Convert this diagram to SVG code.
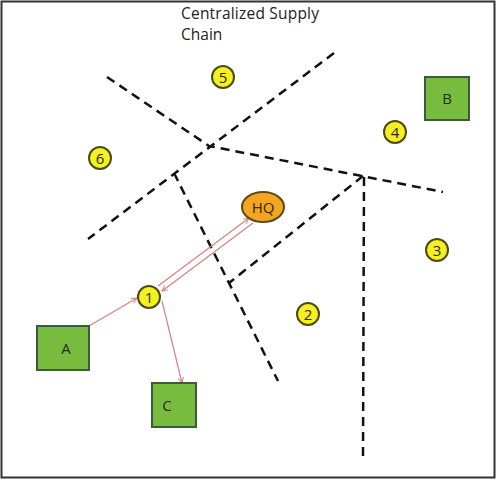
<svg xmlns="http://www.w3.org/2000/svg" width="496" height="480" viewBox="0 0 496 480">
<style>
.dash{fill:none;stroke:#111;stroke-width:2.5;stroke-dasharray:9,6}
.site circle{fill:#f5f01e;stroke:#4a4a1a;stroke-width:2}
.box rect{fill:#77bb3f;stroke:#3d5a3a;stroke-width:2}
text{font-family:"Open Sans","Liberation Sans",sans-serif;fill:#222}
.lbl{font-size:15px;text-anchor:middle;dominant-baseline:central;fill:#2a2a10}
.arr{fill:none;stroke:#d98080;stroke-width:1.2;marker-end:url(#ah)}
</style>
<defs>
<marker id="ah" viewBox="0 0 10 10" refX="9" refY="5" markerWidth="7" markerHeight="7" orient="auto" markerUnits="userSpaceOnUse">
<path d="M1,1 L9,5 L1,9" fill="none" stroke="#d98080" stroke-width="1.4"/>
</marker>
</defs>
<rect x="1.5" y="1.5" width="493" height="476" fill="#fff" stroke="#333" stroke-width="2"/>
<text x="181" y="19" font-size="15.5" textLength="138">Centralized Supply</text>
<text x="181" y="40" font-size="15.5">Chain</text>
<g id="boundaries">
<path class="dash" d="M107,77 L209,146 L443,192"/>
<path class="dash" d="M334,53 L88,239"/>
<path class="dash" d="M174,173 L278,381"/>
<path class="dash" d="M363,176 L229,283"/>
<path class="dash" d="M364,177 L363,457"/>
</g>
<g id="connectors">
<path class="arr" d="M89,326 L137,298"/>
<path class="arr" d="M162,301 L182,383"/>
<path class="arr" d="M158,286 L249,218"/>
<path class="arr" d="M253,223 L162,291"/>
</g>
<g id="site5" class="site"><circle cx="223" cy="77" r="11"/><text class="lbl" x="223" y="77">5</text></g>
<g id="site6" class="site"><circle cx="100" cy="158" r="11"/><text class="lbl" x="100" y="158">6</text></g>
<g id="site4" class="site"><circle cx="395" cy="132" r="11"/><text class="lbl" x="395" y="132">4</text></g>
<g id="site3" class="site"><circle cx="437" cy="250" r="11"/><text class="lbl" x="437" y="250">3</text></g>
<g id="site2" class="site"><circle cx="308" cy="314" r="11"/><text class="lbl" x="308" y="314">2</text></g>
<g id="site1" class="site"><circle cx="149" cy="297" r="11"/><text class="lbl" x="149" y="297">1</text></g>
<g id="hq"><ellipse cx="263" cy="207" rx="21" ry="15" fill="#f5a51e" stroke="#5a4a1a" stroke-width="2"/><text class="lbl" x="263" y="207">HQ</text></g>
<g id="boxB" class="box"><rect x="425" y="77" width="44" height="43"/><text class="lbl" x="447" y="98">B</text></g>
<g id="boxA" class="box"><rect x="37" y="326" width="52" height="44"/><text class="lbl" x="66" y="348">A</text></g>
<g id="boxC" class="box"><rect x="152" y="383" width="44" height="44"/><text class="lbl" x="167" y="405">C</text></g>
</svg>
